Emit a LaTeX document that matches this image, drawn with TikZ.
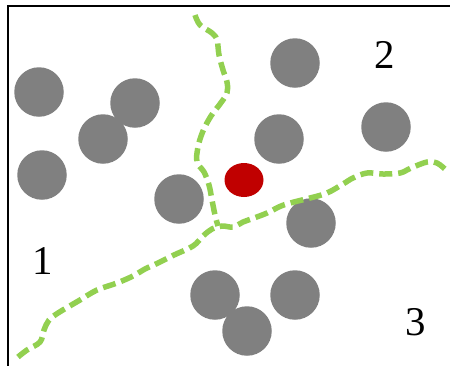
\documentclass[tikz,border=0pt]{standalone}
\usepackage{fontspec}
\setmainfont{Liberation Serif}
\usetikzlibrary{shapes.geometric}
\definecolor{dotgray}{RGB}{128,128,128}
\definecolor{dotred}{RGB}{192,0,0}
\definecolor{bgreen}{RGB}{146,208,80}
\tikzset{
  grayc/.style={circle,fill=dotgray,draw=none,inner sep=0pt,minimum size=49.5bp},
  redc/.style={ellipse,fill=dotred,draw=none,inner sep=0pt,minimum width=39bp,minimum height=34bp},
  boundary/.style={draw=bgreen,line width=5.5bp,dash pattern=on 13bp off 6bp},
  region/.style={font=\fontsize{41}{41}\selectfont,inner sep=0pt}
}
\begin{document}
\begin{tikzpicture}[x=1bp,y=-1bp]
\useasboundingbox (0,0) rectangle (450,365);
\draw[line width=2.3bp] (8,366) -- (8,6) -- (451,6);
% gray particles
\node[grayc] (c1) at (39,92) {};
\node[grayc] (c2) at (135,103) {};
\node[grayc] (c3) at (103,139) {};
\node[grayc] (c4) at (42,175) {};
\node[grayc] (c5) at (179,199) {};
\node[grayc] (c6) at (295,63) {};
\node[grayc] (c7) at (279,139) {};
\node[grayc] (c8) at (386,127) {};
\node[grayc] (c9) at (311,223) {};
\node[grayc] (c10) at (295,295) {};
\node[grayc] (c11) at (215,295) {};
\node[grayc] (c12) at (247,331) {};
\node[redc] (r) at (244,180) {};
% region labels
\node[region] (l1) at (43,261) {1};
\node[region] (l2) at (385,55) {2};
\node[region] (l3) at (416,322) {3};
% boundaries
\draw[boundary] plot[smooth,tension=0.6] coordinates {(195,15) (200,25) (212,33) (217,40) (219,55) (223,70) (227,82) (227,93) (220,104) (211,116) (203,131) (198,147) (197,162) (204,172) (209,185) (212,200) (215,215) (218,226)};
\draw[boundary] plot[smooth,tension=0.6] coordinates {(18,357) (27,350) (40,342) (44,330) (49,320) (58,313) (68,307) (80,300) (97,290) (117,283) (133,276) (145,269) (158,263) (174,255) (193,246) (203,236) (212,229) (222,226) (233,227) (243,222) (254,218) (267,213) (281,206) (294,202) (310,198) (327,193) (343,184) (353,178) (367,173) (383,174) (400,173) (411,168) (427,162) (437,163) (446,170)};
\end{tikzpicture}
\end{document}
